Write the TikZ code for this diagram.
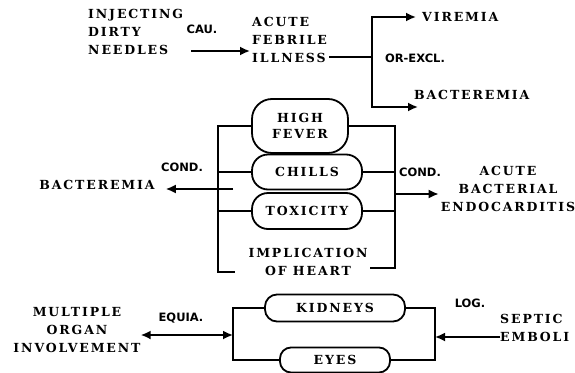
\documentclass[tikz,border=0pt]{standalone}
\usepackage{fontspec}
\setmainfont{DejaVu Serif}
\newfontfamily\capsfont[LetterSpace=15]{DejaVu Serif}
\newfontfamily\tagfont{DejaVu Sans}
\usetikzlibrary{positioning, arrows.meta}

\begin{document}
\begin{tikzpicture}[
  x=1pt, y=-1pt,
  txt/.style={font=\capsfont\bfseries\fontsize{12.5}{18}\selectfont, inner sep=0pt},
  tag/.style={font=\tagfont\bfseries\fontsize{11.5}{12}\selectfont, inner sep=0pt},
  pill/.style={draw, line width=1.8pt, inner sep=0pt, align=center,
    font=\capsfont\bfseries\fontsize{12.5}{16}\selectfont},
  link/.style={line width=1.8pt},
  arrow/.style={link, -{Latex[length=10pt, width=9pt]}}
]
  \useasboundingbox (0,0) rectangle (575,372);

  % Top: cause and exclusive outcome
  \node[txt, align=left, anchor=west] (needles) at (88,32) {INJECTING\\DIRTY\\NEEDLES};
  \node[tag] (cau) at (202,29) {CAU.};
  \node[txt, align=left, anchor=west] (illness) at (252,40) {ACUTE\\FEBRILE\\ILLNESS};
  \node[txt, anchor=west] (viremia) at (422,17) {VIREMIA};
  \node[txt, anchor=west] (bactA) at (414,95) {BACTEREMIA};
  \node[tag] (orexcl) at (415,58) {OR-EXCL.};
  \coordinate (fork) at (372,57);

  \draw[arrow] ([shift={(8,19)}]needles.east) -- ([shift={(-2,11)}]illness.west);
  \draw[link] ([shift={(2,17)}]illness.east) -- (fork);
  \draw[arrow, shorten >=6pt] (fork) |- (viremia.west);
  \draw[arrow] (fork) |- ([shift={(4,12)}]bactA.west);

  % Middle: conditions
  \node[pill, rounded corners=20pt, minimum width=96pt, minimum height=54pt] (fever) at (300,126) {HIGH\\FEVER};
  \node[pill, rounded corners=16pt, minimum width=110pt, minimum height=35pt] (chills) at (307,172) {CHILLS};
  \node[pill, rounded corners=16pt, minimum width=110pt, minimum height=36pt] (toxic) at (307,211) {TOXICITY};
  \node[txt, align=center] (heart) at (308,262) {IMPLICATION\\OF HEART};
  \node[txt] (bactB) at (97,185) {BACTEREMIA};
  \node[tag] (condL) at (182,167) {COND.};
  \node[txt, align=center] (endo) at (508,189) {ACUTE\\BACTERIAL\\ENDOCARDITIS};
  \node[tag] (condR) at (420,172) {COND.};

  \coordinate (lb) at (218,0);
  \coordinate (lbend) at (235,272);
  \coordinate (lcond) at (233,189);
  \coordinate (rb) at (395,0);
  \coordinate (rbend) at (370,268);
  \coordinate (rcond) at (395,194);

  \draw[link] (fever.west) -| (lb |- lbend) -- (lbend);
  \draw[link] (chills.west) -- (chills.west -| lb);
  \draw[link] (toxic.west) -- (toxic.west -| lb);
  \draw[arrow, shorten >=11pt] (lcond) -- (lcond -| bactB.east);

  \draw[link] (fever.east) -| (rb |- rbend) -- (rbend);
  \draw[link] (chills.east) -- (chills.east -| rb);
  \draw[link] (toxic.east) -- (toxic.east -| rb);
  \draw[arrow, shorten >=2pt] (rcond) -- (rcond -| endo.west);

  % Bottom: localisation
  \node[pill, rounded corners=12pt, minimum width=140pt, minimum height=27pt] (kidneys) at (335,308) {KIDNEYS};
  \node[pill, rounded corners=11pt, minimum width=110pt, minimum height=25pt] (eyes) at (335,360) {EYES};
  \node[txt, align=center] (organ) at (77,330) {MULTIPLE\\ORGAN\\INVOLVEMENT};
  \node[tag] (equia) at (181,318) {EQUIA.};
  \node[txt, align=left, anchor=west] (septic) at (500,328) {SEPTIC\\EMBOLI};
  \node[tag] (log) at (470,303) {LOG.};

  \coordinate (lb2) at (233,0);
  \coordinate (rb2) at (435,0);
  \coordinate (eqpt) at (233,335);

  \draw[link] (kidneys.west) -| (lb2 |- eyes.west) -- (eyes.west);
  \draw[link] (kidneys.east) -| (rb2 |- eyes.east) -- (eyes.east);
  \draw[link, {Latex[length=10pt, width=9pt]}-{Latex[length=10pt, width=9pt]}] (eqpt -| organ.east) -- (eqpt);
  \draw[arrow] ([shift={(0,9)}]septic.west) -- ([shift={(0,9)}]septic.west -| rb2);
\end{tikzpicture}
\end{document}
